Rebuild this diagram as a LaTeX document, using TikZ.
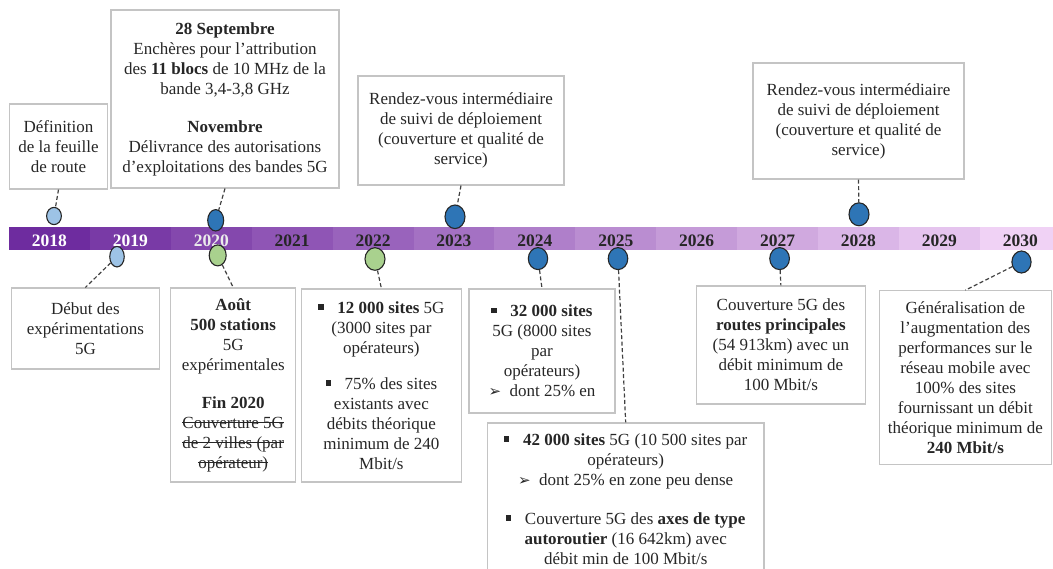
\documentclass[tikz,border=0pt]{standalone}
\usepackage{fontspec}
\setmainfont{Liberation Serif}
\newfontfamily\dejavu{DejaVu Sans}
\usetikzlibrary{shapes.geometric}
\definecolor{barA}{HTML}{6E2C9F}
\definecolor{barB}{HTML}{F0D2F5}
\definecolor{boxgray}{HTML}{C4C4C4}
\definecolor{linegray}{HTML}{404040}
\definecolor{dotdark}{HTML}{2E75B6}
\definecolor{dotlight}{HTML}{9DC3E6}
\definecolor{dotgreen}{HTML}{A9D18E}
\definecolor{txt}{HTML}{262626}
\newcommand{\sqb}{\rule[0.2em]{0.32em}{0.32em}\hspace{0.8em}}
\newcommand{\arr}{{\dejavu\fontsize{15}{15}\selectfont ➢}\hspace{0.5em}}
\newsavebox{\stbox}
\newcommand{\strk}[1]{\sbox{\stbox}{#1}\rlap{\rule[0.3em]{\wd\stbox}{0.8pt}}\usebox{\stbox}}
\begin{document}
\begin{tikzpicture}[x=1pt,y=-1pt,
 box/.style={draw=boxgray, line width=1.1pt, align=center, inner sep=0pt, font=\fontsize{17}{20}\selectfont, text=txt},
 conn/.style={draw=linegray, line width=1.2pt, dash pattern=on 4pt off 2.5pt},
 dot/.style={ellipse, draw=black!85, line width=1.1pt, inner sep=0pt},
 yr/.style={font=\fontsize{17.5}{20}\selectfont\bfseries, anchor=base, inner sep=0pt}
]
\useasboundingbox (0,0) rectangle (1053,569);

% timeline bar
\foreach \i [evaluate=\i as \p using \i*100/12] in {0,...,12} {
  \fill[barB!\p!barA] ({9+80.9*\i},227.5) rectangle ({9+80.9*(\i+1)},250.5);
}
\foreach \yy/\c [count=\k from 0] in {2018/white,2019/white,2020/white!92!black,2021/txt,2022/txt,2023/txt,2024/txt,2025/txt,2026/txt,2027/txt,2028/txt,2029/txt,2030/txt} {
  \node[yr, text=\c] (y\yy) at ({9+80.9*(\k+0.5)},246.5) {\yy};
}

% dots
\node[dot, fill=dotlight, minimum width=14.8pt, minimum height=17.2pt] (d2018) at (54,216) {};
\node[dot, fill=dotlight, minimum width=14.5pt, minimum height=20.5pt] (d2019) at (117,256.7) {};
\node[dot, fill=dotdark, minimum width=16pt, minimum height=21.4pt] (d2020a) at (215.7,220.3) {};
\node[dot, fill=dotgreen, minimum width=17pt, minimum height=21pt] (d2020b) at (217.7,255.4) {};
\node[dot, fill=dotgreen, minimum width=20pt, minimum height=22.6pt] (d2022) at (375,259) {};
\node[dot, fill=dotdark, minimum width=20pt, minimum height=23.6pt] (d2023) at (455,216.8) {};
\node[dot, fill=dotdark, minimum width=19.4pt, minimum height=22pt] (d2024) at (538,258.6) {};
\node[dot, fill=dotdark, minimum width=19.6pt, minimum height=22pt] (d2025) at (618,258.6) {};
\node[dot, fill=dotdark, minimum width=19.7pt, minimum height=22pt] (d2027) at (779.6,258.6) {};
\node[dot, fill=dotdark, minimum width=20pt, minimum height=23pt] (d2028) at (859,214.3) {};
\node[dot, fill=dotdark, minimum width=19.2pt, minimum height=22pt] (d2030) at (1021.5,262) {};

% boxes above
\node[box, minimum width=98.4pt, minimum height=85pt] (defin) at (58.5,146.5)
  {Définition\\de la feuille\\de route};
\node[box, minimum width=228pt, minimum height=178pt] (sept) at (225,99)
  {\textbf{28 Septembre}\\Enchères pour l'attribution\\des \textbf{11 blocs} de 10 MHz de la\\bande 3,4-3,8 GHz\\[18pt]\textbf{Novembre}\\Délivrance des autorisations\\d'exploitations des bandes 5G};
\node[box, minimum width=206pt, minimum height=109pt] (rv1) at (461,130.5)
  {Rendez-vous intermédiaire\\de suivi de déploiement\\(couverture et qualité de\\service)};
\node[box, minimum width=211pt, minimum height=116pt] (rv2) at (858.5,121)
  {Rendez-vous intermédiaire\\de suivi de déploiement\\(couverture et qualité de\\service)};

% boxes below
\node[box, minimum width=147.3pt, minimum height=81pt] (debut) at (85.4,328.5)
  {Début des\\expérimentations\\5G};
\node[box, minimum width=125pt, minimum height=194pt] (aout) at (233.2,385)
  {\textbf{Août}\\\textbf{500 stations}\\5G\\expérimentales\\[18pt]\textbf{Fin 2020}\\\strk{Couverture 5G}\\\strk{de 2 villes (par}\\\strk{opérateur)}};
\node[box, minimum width=159.3pt, minimum height=193pt] (s12) at (381.4,385.5)
  {\sqb\textbf{12 000 sites} 5G\\(3000 sites par\\opérateurs)\\[16pt]\sqb 75\% des sites\\existants avec\\débits théorique\\minimum de 240\\Mbit/s};
\node[box, minimum width=146pt, minimum height=124pt] (s32) at (542,351)
  {\sqb\textbf{32 000 sites}\\5G (8000 sites\\par\\opérateurs)\\\arr dont 25\% en};
\node[box, minimum width=276.5pt, minimum height=152pt] (s42) at (625.7,499)
  {\sqb\textbf{42 000 sites} 5G (10 500 sites par\\opérateurs)\\\arr dont 25\% en zone peu dense\\[19pt]\sqb Couverture 5G des \textbf{axes de type}\\\textbf{autoroutier} (16 642km) avec\\débit min de 100 Mbit/s};
\node[box, minimum width=169.7pt, minimum height=118pt] (couv) at (780.9,345)
  {Couverture 5G des\\\textbf{routes principales}\\(54 913km) avec un\\débit minimum de\\100 Mbit/s};
\node[box, minimum width=172.7pt, minimum height=173.3pt] (gen) at (965.4,377.4)
  {Généralisation de\\l’augmentation des\\performances sur le\\réseau mobile avec\\100\% des sites\\fournissant un débit\\théorique minimum de\\\textbf{240 Mbit/s}};

% connectors
\draw[conn] (defin.south) -- (d2018);
\draw[conn] (sept.south) -- (d2020a);
\draw[conn] (rv1.south) -- (d2023);
\draw[conn] (rv2.south) -- (d2028);
\draw[conn] (d2019) -- (debut.north);
\draw[conn] (d2020b) -- (aout.north);
\draw[conn] (d2022) -- (s12.north);
\draw[conn] (d2024) -- (s32.north);
\draw[conn] (d2025) -- (s42.north);
\draw[conn] (d2027) -- (couv.north);
\draw[conn] (d2030) -- (gen.north);
\end{tikzpicture}
\end{document}
